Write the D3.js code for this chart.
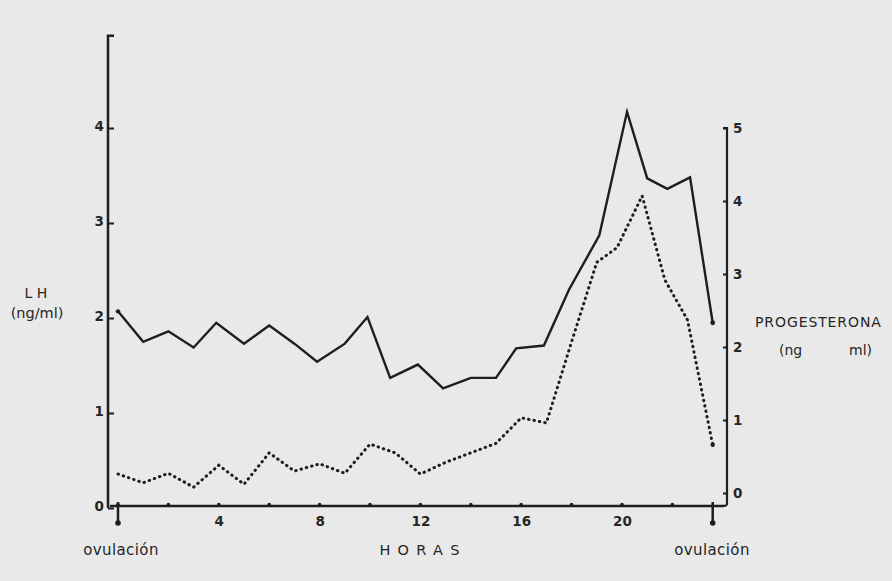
<!DOCTYPE html>
<html><head><meta charset="utf-8">
<script src="https://cdn.jsdelivr.net/npm/d3@7"></script>
<style>
html,body{margin:0;padding:0;background:#e9e9e9;}
svg{display:block;}
text{font-family:"DejaVu Sans",sans-serif;fill:#262626;}
</style></head>
<body>
<svg id="chart" width="892" height="581"></svg>
<script>
// LH (ng/ml), left axis
const lhHours = [0,1,2,3,3.9,5,6,7,7.9,9,9.9,10.8,11.9,12.9,14,15,15.8,16.9,17.9,19.1,20.2,21,21.8,22.7,23.6];
const lhValues = [2.07,1.75,1.86,1.69,1.95,1.73,1.92,1.73,1.54,1.73,2.01,1.37,1.51,1.26,1.37,1.37,1.68,1.71,2.3,2.87,4.17,3.47,3.36,3.48,1.95];
// Progesterona (ng/ml), right axis
const progHours = [0,1,2,3,4,5,6,7,8,9,10,11,12,13,14,15,16,17,18,19,19.8,20.8,21.7,22.6,23.6];
const progValues = [0.26,0.14,0.27,0.08,0.38,0.12,0.55,0.30,0.40,0.27,0.67,0.55,0.26,0.42,0.55,0.68,1.03,0.96,2.07,3.16,3.36,4.07,2.92,2.37,0.66];
const xTickLabels = [4,8,12,16,20];
const xMinorTicks = [0,2,4,6,8,10,12,14,16,18,20,22];
const leftTicks = [0,1,2,3,4];
const rightTicks = [0,1,2,3,4,5];
const ovulationHours = [0,23.6];

const svg = d3.select("#chart");
const x = d3.scaleLinear().domain([0,20]).range([118,622]);
const yL = d3.scaleLinear().domain([0,5]).range([508,33]);
const yR = d3.scaleLinear().domain([0,5]).range([493,128]);
const ink = "#1e1e1e";

// Left axis
const gL = svg.append("g").attr("transform","translate(108,0)")
  .call(d3.axisLeft(yL).tickValues(leftTicks).tickSize(-6).tickPadding(4).tickFormat(d3.format("d")));
gL.select(".domain").remove();
gL.selectAll(".tick line").attr("stroke",ink).attr("stroke-width",2);
gL.selectAll(".tick text").attr("font-size",13.5).attr("font-weight","bold").attr("dy","0.15em");
svg.append("path").attr("d",`M114,${yL(4.97)}H108V${yL(0)}`).attr("fill","none").attr("stroke",ink).attr("stroke-width",2.5);

// Right axis
const gR = svg.append("g").attr("transform","translate(727,0)")
  .call(d3.axisRight(yR).tickValues(rightTicks).tickSize(-4).tickPadding(6).tickFormat(d3.format("d")));
gR.select(".domain").remove();
gR.selectAll(".tick line").attr("stroke",ink).attr("stroke-width",2);
gR.selectAll(".tick text").attr("font-size",13.5).attr("font-weight","bold");
svg.append("path").attr("d",`M723,${yR(5)}H727V${yL(0)-4}Q727,${yL(0)-2} 722,${yL(0)-2}`).attr("fill","none").attr("stroke",ink).attr("stroke-width",2.2);

// X axis
svg.append("line").attr("x1",110).attr("x2",724).attr("y1",yL(0)-2).attr("y2",yL(0)-2).attr("stroke",ink).attr("stroke-width",2.5);
svg.append("g").selectAll("circle").data(xMinorTicks).join("circle")
  .attr("cx",d=>x(d)).attr("cy",yL(0)-3.5).attr("r",1.8).attr("fill",ink);
const gX = svg.append("g").attr("transform",`translate(0,${yL(0)})`)
  .call(d3.axisBottom(x).tickValues(xTickLabels).tickSize(0).tickPadding(8).tickFormat(d3.format("d")));
gX.select(".domain").remove();
gX.selectAll(".tick text").attr("font-size",13.5).attr("font-weight","bold");

// Ovulation markers
ovulationHours.forEach(h=>{
  svg.append("line").attr("x1",x(h)).attr("x2",x(h)).attr("y1",yL(0)-6).attr("y2",yL(0)+14).attr("stroke",ink).attr("stroke-width",2.5);
  svg.append("circle").attr("cx",x(h)).attr("cy",yL(0)+15).attr("r",2.8).attr("fill",ink);
});

// Lines
const lhLine = d3.line().x((d,i)=>x(lhHours[i])).y(d=>yL(d));
svg.append("path").datum(lhValues).attr("d",lhLine).attr("fill","none").attr("stroke",ink).attr("stroke-width",2.4).attr("stroke-linejoin","miter");
svg.append("circle").attr("cx",x(lhHours[0])).attr("cy",yL(lhValues[0])).attr("r",2.2).attr("fill",ink);
svg.append("circle").attr("cx",x(lhHours[lhHours.length-1])).attr("cy",yL(lhValues[lhValues.length-1])).attr("r",2.4).attr("fill",ink);

const progLine = d3.line().x((d,i)=>x(progHours[i])).y(d=>yR(d));
svg.append("path").datum(progValues).attr("d",progLine).attr("fill","none").attr("stroke",ink).attr("stroke-width",3).attr("stroke-linecap","round").attr("stroke-dasharray","0.5,5");
svg.append("circle").attr("cx",x(progHours[progHours.length-1])).attr("cy",yR(progValues[progValues.length-1])).attr("r",2.2).attr("fill",ink);

// Labels
svg.append("text").attr("x",36).attr("y",298).attr("text-anchor","middle").attr("font-size",14).text("L H");
svg.append("text").attr("x",37).attr("y",318).attr("text-anchor","middle").attr("font-size",14.5).text("(ng/ml)");
svg.append("text").attr("x",755).attr("y",327).attr("font-size",14).attr("letter-spacing","0.9px").text("PROGESTERONA");
svg.append("text").attr("x",779).attr("y",355).attr("font-size",14).text("(ng");
svg.append("text").attr("x",849).attr("y",355).attr("font-size",14).text("ml)");
svg.append("text").attr("x",121).attr("y",555).attr("text-anchor","middle").attr("font-size",15).attr("letter-spacing","0.4px").text("ovulación");
svg.append("text").attr("x",712).attr("y",555).attr("text-anchor","middle").attr("font-size",15).attr("letter-spacing","0.4px").text("ovulación");
svg.append("text").attr("x",423).attr("y",555).attr("text-anchor","middle").attr("font-size",14.5).attr("letter-spacing","0.5em").text("HORAS");
</script>
</body></html>
